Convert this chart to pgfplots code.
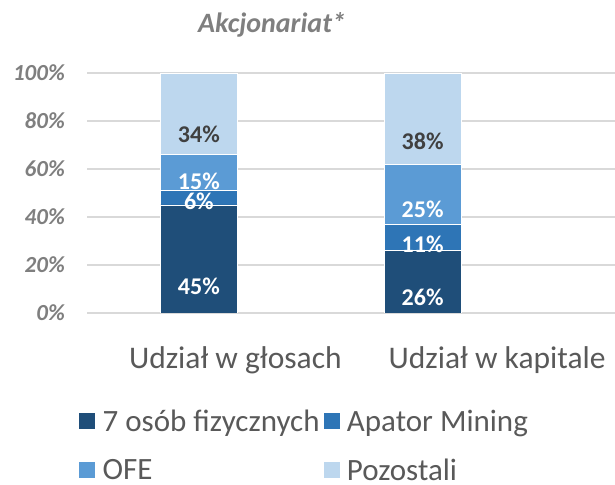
\documentclass[border=0pt]{standalone}
\usepackage{pgfplots}
\pgfplotsset{compat=1.18}
\usepackage{pgfplotstable}
\usepackage{fontspec}
\setmainfont{Carlito}
\definecolor{cA}{HTML}{1F4E79}
\definecolor{cB}{HTML}{2E75B6}
\definecolor{cC}{HTML}{5B9BD5}
\definecolor{cD}{HTML}{BDD7EE}
\definecolor{gridc}{HTML}{D9D9D9}
\definecolor{tgray}{HTML}{7F7F7F}
\definecolor{lgray}{HTML}{595959}
\definecolor{dlab}{HTML}{404040}

\pgfplotstableread{
x v
0 45
1 26
}\tabA
\pgfplotstableread{
x v
0 6
1 11
}\tabB
\pgfplotstableread{
x v
0 15
1 25
}\tabC
\pgfplotstableread{
x v
0 34
1 38
}\tabD

\begin{document}
\begin{tikzpicture}
\useasboundingbox (0pt,0pt) rectangle (615pt,484pt);
\node[anchor=base, font=\fontsize{28}{33}\selectfont\bfseries\itshape, text=tgray] at (272pt,451pt) {Akcjonariat*};
\begin{axis}[
  at={(87pt,171pt)}, anchor=south west,
  scale only axis, width=528pt, height=240pt,
  ybar stacked, bar width=77pt,
  xmin=-0.5, xmax=1.86, ymin=0, ymax=100,
  axis line style={draw=none},
  major tick length=0pt,
  ytick={0,20,40,60,80,100},
  yticklabels={0\%,20\%,40\%,60\%,80\%,100\%},
  yticklabel style={font=\fontsize{23}{28}\selectfont\bfseries\itshape, text=tgray, inner sep=0pt, xshift=-22pt},
  ymajorgrids, grid style={gridc, line width=1.3pt},
  xtick={0.163,1.333},
  xticklabels={Udział w głosach, Udział w kapitale},
  xticklabel style={font=\fontsize{31.5}{36}\selectfont, text=lgray, anchor=base, yshift=-55pt},
  /pgf/number format/assume math mode=true,
  point meta=explicit,
  nodes near coords={\pgfmathprintnumber{\pgfplotspointmeta}\%},
  visualization depends on={\thisrow{v} \as \val},
  every node near coord/.append style={anchor=center, inner sep=0pt, yshift=-0.6pt*\val, font=\fontsize{24}{28}\selectfont\bfseries},
  legend columns=2,
  legend style={draw=none, fill=none, at={(-0.017,-0.395)}, anchor=north west,
    font=\fontsize{31}{36}\selectfont, text=lgray, inner sep=0pt, row sep=23pt,
    nodes={text depth=0pt},
    /tikz/every odd column/.append style={column sep=5pt},
    /tikz/every even column/.append style={column sep=1pt}},
  legend cell align=left,
  legend image code/.code={\fill[#1] (0pt,-8.5pt) rectangle (17pt,8.5pt);},
]
\addplot[fill=cA, draw=white, line width=0.4pt, every node near coord/.append style={text=white}] table[x=x,y=v,meta=v] {\tabA};
\addplot[fill=cB, draw=white, line width=0.4pt, every node near coord/.append style={text=white}] table[x=x,y=v,meta=v] {\tabB};
\addplot[fill=cC, draw=white, line width=0.4pt, every node near coord/.append style={text=white}] table[x=x,y=v,meta=v] {\tabC};
\addplot[fill=cD, draw=white, line width=0.4pt, every node near coord/.append style={text=dlab}] table[x=x,y=v,meta=v] {\tabD};
\legend{7 osób fizycznych, Apator Mining, OFE, Pozostali}
\end{axis}
\end{tikzpicture}
\end{document}
